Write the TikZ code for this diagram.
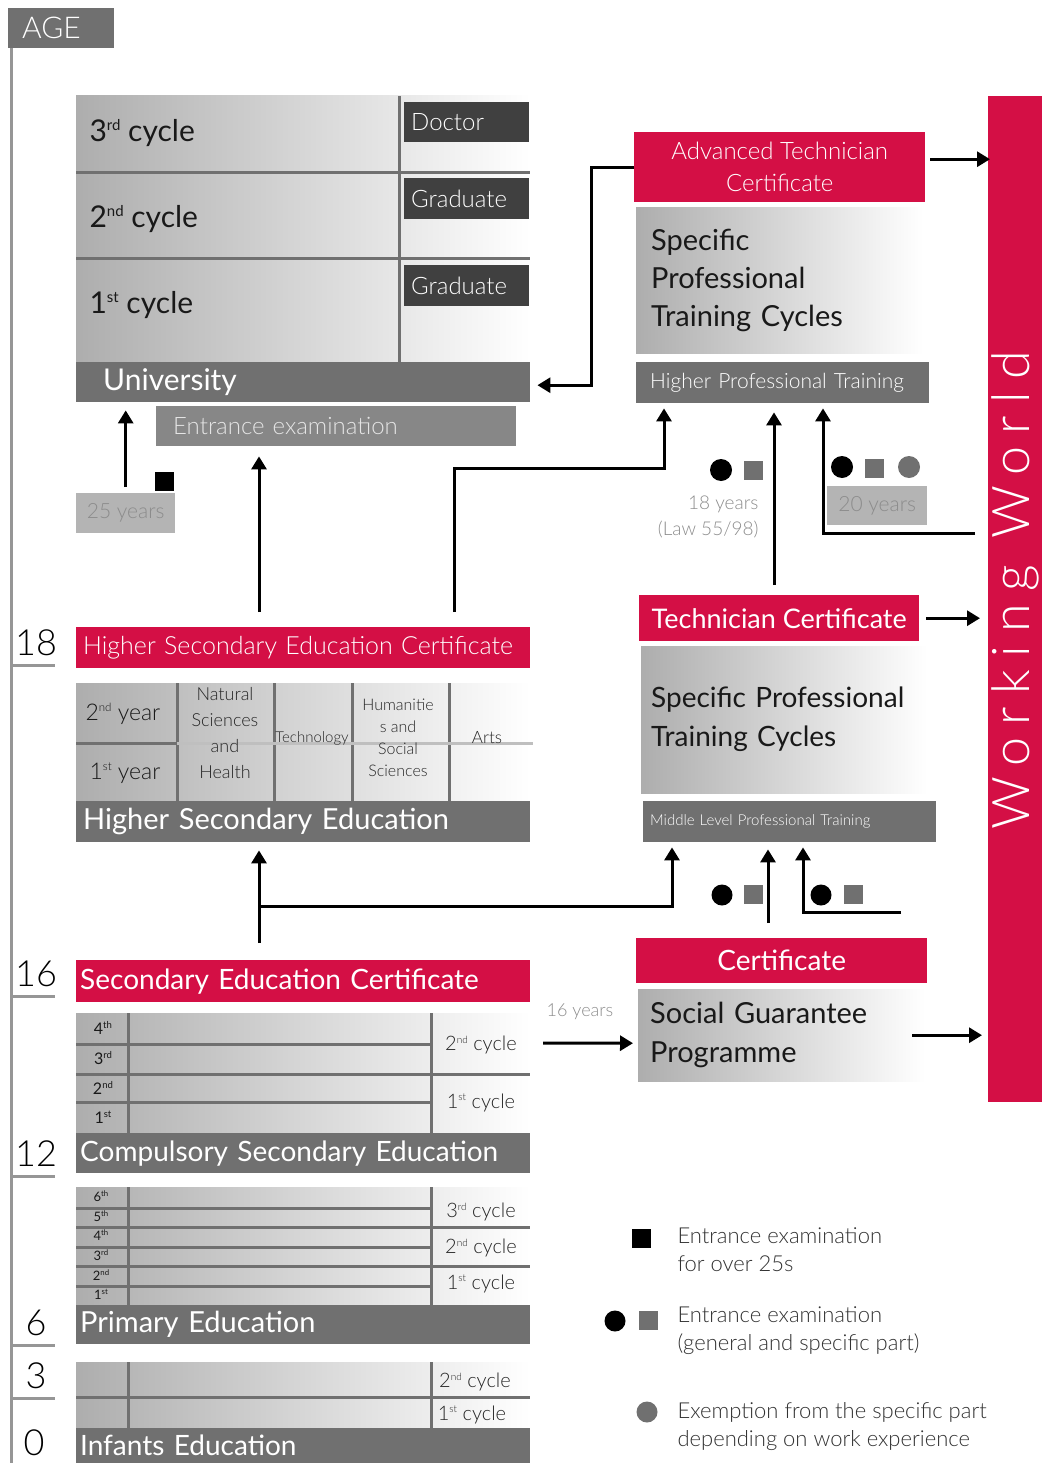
\documentclass[tikz,border=0pt]{standalone}
\usepackage{fontspec}
\setmainfont{Lato}[UprightFont=* Light]
\newfontfamily\regfont{Lato}
\usetikzlibrary{positioning,arrows.meta,calc}

\definecolor{crimson}{RGB}{212,15,69}
\definecolor{bargray}{RGB}{112,112,112}
\definecolor{darkbox}{RGB}{64,64,64}
\definecolor{exambox}{RGB}{135,135,135}
\definecolor{yearbox}{RGB}{180,180,180}
\definecolor{yeartext}{RGB}{140,140,140}
\definecolor{axisgray}{RGB}{150,150,150}
\definecolor{legtext}{RGB}{50,50,50}

\newcommand{\px}[2]{\fontsize{#1}{#2}\selectfont}
\newcommand{\ordsup}[1]{\raisebox{0.38em}{\scalebox{0.5}{#1}}}
\newcommand{\gradesup}[1]{\raisebox{0.4em}{\scalebox{0.6}{#1}}}
\hyphenpenalty=10000
\exhyphenpenalty=10000

\tikzset{
  bar/.style={fill=bargray, text=white, anchor=north west, inner ysep=0pt, inner xsep=7pt, align=left},
  cert/.style={fill=crimson, text=white, anchor=north west, inner sep=0pt, align=center},
  dark/.style={fill=darkbox, text=white, anchor=north west, inner ysep=0pt, inner xsep=7pt, align=left, font=\px{24}{24}},
  grad/.style={left color=black!32, right color=white, anchor=north west, inner ysep=0pt, align=left, text=black!90},
  yearsbox/.style={fill=yearbox, text=yeartext, anchor=north west, inner sep=0pt, font=\px{21}{21}},
  gline/.style={draw=bargray, line width=3pt},
  lline/.style={draw=black!25, line width=3pt},
  ageline/.style={draw=axisgray, line width=3pt},
  agenum/.style={font=\px{36}{36}, text=black},
  cyc/.style={anchor=west, font=\regfont\px{30}{30}, text=black!90},
  small/.style={font=\px{17}{17}, text=black!85, align=center},
  grade/.style={font=\regfont\px{16}{16}, text=black!90},
  side/.style={font=\px{20}{20}, text=black!85},
  arr/.style={line width=3pt, -{Triangle[length=13pt,width=15pt]}},
  bdot/.style={circle, fill=black, inner sep=0pt, minimum size=22pt},
  gdot/.style={circle, fill=bargray, inner sep=0pt, minimum size=22pt},
  bsq/.style={fill=black, inner sep=0pt, minimum size=19pt},
  gsq/.style={fill=bargray, inner sep=0pt, minimum size=19pt},
  legend/.style={anchor=west, align=left, font=\px{22}{28}, text=legtext},
}

\begin{document}
\begin{tikzpicture}[x=1pt, y=-1pt]
\useasboundingbox (0,0) rectangle (1042,1463);

% age axis
\node[bar, text width=78pt, minimum height=40pt, inner xsep=14pt, font=\px{30}{30}] (age) at (8,8) {AGE};
\draw[ageline] ([xshift=3pt]age.south west) -- (11,1463);
\foreach \y/\a in {665/18, 996/16, 1176/12, 1345/6, 1398/3}
  \draw[ageline] (11,\y) -- (55,\y) node[agenum] at (36,\y-22) {\a};
\node[agenum] (age0) at (34,1443) {0};

% university
\shade[left color=black!32, right color=white] (76,96) rectangle (530,362);
\draw[gline] (399,96) -- (399,362);
\draw[gline] (76,173) -- (530,173) (76,258) -- (530,258);
\node[cyc] (uc3) at (86,133) {3\ordsup{rd} cycle};
\node[cyc] (uc2) at (86,219) {2\ordsup{nd} cycle};
\node[cyc] (uc1) at (86,305) {1\ordsup{st} cycle};
\node[dark, text width=111pt, minimum height=40pt] (doctor) at (404,102) {Doctor};
\node[dark, text width=111pt, minimum height=41pt] (grad2) at (404,178) {Graduate};
\node[dark, text width=111pt, minimum height=41pt] (grad1) at (404,265) {Graduate};
\node[bar, text width=400pt, minimum height=40pt, inner xsep=27pt, font=\regfont\px{30}{30}] (univ) at (76,362) {University};
\node[bar, fill=exambox, text=black!10, text width=326pt, minimum height=40pt, inner xsep=17pt, font=\px{24}{24}] (entr) at (156,406) {Entrance examination};

% over 25s
\node[yearsbox, minimum width=99pt, minimum height=40pt] (yrs25) at (76,493) {25 years};
\node[bsq] (sq25) at (164,481) {};
\draw[arr, shorten <=6pt, shorten >=8pt] (yrs25.north) -- (yrs25.north |- univ.south);

% higher secondary education
\node[cert, text width=440pt, minimum height=41pt, inner xsep=7pt, align=left, font=\px{25}{25}] (hsec) at (76,627) {Higher Secondary Education Certificate};
\draw[arr] ([xshift=183pt,yshift=15pt]hsec.north west) coordinate (h0) -- ([yshift=-10pt]h0 |- entr.south);
\shade[left color=black!32, right color=white] (76,683) rectangle (530,801);
\draw[gline] (177,683) -- (177,801) (274,683) -- (274,801) (352,683) -- (352,801) (449,683) -- (449,801);
\draw[gline] (76,743) -- (177,743);
\draw[lline] (177,743) -- (533,743);
\node[cyc, font=\px{23}{23}] (y2) at (82,714) {2\ordsup{nd} year};
\node[cyc, font=\px{23}{23}] (y1) at (86,773) {1\ordsup{st} year};
\node[small, font=\px{18}{25.7}] (nat) at (225,733) {Natural\\Sciences\\and\\Health};
\node[small, font=\px{15}{15}] (tech) at (312,738) {Technology};
\node[small, font=\px{16}{22}] (hum) at (398,738) {Humanitie\\s and\\Social\\Sciences};
\node[small] (arts) at (487,738) {Arts};
\node[bar, text width=440pt, minimum height=41pt, font=\regfont\px{29}{29}] (hse) at (76,801) {Higher Secondary Education};

% compulsory secondary education
\node[cert, text width=446pt, minimum height=42pt, inner xsep=4pt, align=left, font=\regfont\px{28}{28}] (secc) at (76,960) {Secondary Education Certificate};
\draw[arr] ([xshift=183pt,yshift=17pt]secc.north west) coordinate (s0) -- ([yshift=-8pt]s0 |- hse.south);
\shade[left color=black!32, right color=white] (76,1013) rectangle (530,1133);
\draw[gline] (128,1013) -- (128,1133) (431,1013) -- (431,1133);
\draw[gline] (76,1044) -- (431,1044) (76,1074) -- (530,1074) (76,1102) -- (431,1102);
\foreach \y/\g in {1028/4\gradesup{th}, 1058/3\gradesup{rd}, 1088/2\gradesup{nd}, 1117/1\gradesup{st}}
  \node[grade] at (103,\y) {\g};
\node[side] (cs2) at (481,1045) {2\ordsup{nd} cycle};
\node[side] (cs1) at (481,1103) {1\ordsup{st} cycle};
\node[bar, text width=446pt, minimum height=40pt, inner xsep=4pt, font=\regfont\px{28}{28}] (cse) at (76,1133) {Compulsory Secondary Education};

% primary education
\shade[left color=black!32, right color=white] (76,1187) rectangle (530,1305);
\draw[gline] (128,1187) -- (128,1305) (431,1187) -- (431,1305);
\draw[gline] (76,1208) -- (431,1208) (76,1227) -- (530,1227) (76,1247) -- (431,1247)
  (76,1266) -- (530,1266) (76,1286) -- (431,1286);
\foreach \y/\g in {1196/6\gradesup{th}, 1216/5\gradesup{th}, 1235/4\gradesup{th}, 1255/3\gradesup{rd}, 1275/2\gradesup{nd}, 1294/1\gradesup{st}}
  \node[grade, font=\regfont\px{13}{13}] at (101,\y) {\g};
\node[side] (pc3) at (481,1212) {3\ordsup{rd} cycle};
\node[side] (pc2) at (481,1248) {2\ordsup{nd} cycle};
\node[side] (pc1) at (481,1284) {1\ordsup{st} cycle};
\node[bar, text width=446pt, minimum height=39pt, inner xsep=4pt, font=\regfont\px{29}{29}] (prim) at (76,1305) {Primary Education};

% infants education
\shade[left color=black!32, right color=white] (76,1362) rectangle (530,1428);
\draw[gline] (128,1362) -- (128,1428) (431,1362) -- (431,1428);
\draw[gline] (76,1397) -- (530,1397);
\node[side] (ic2) at (475,1382) {2\ordsup{nd} cycle};
\node[side] (ic1) at (472,1415) {1\ordsup{st} cycle};
\node[bar, text width=446pt, minimum height=35pt, inner xsep=4pt, font=\regfont\px{28}{28}] (inf) at (76,1428) {Infants Education};

% working world
\node[fill=crimson, anchor=north west, minimum width=54pt, minimum height=1006pt, inner sep=0pt] (ww) at (988,96) {};
\node[rotate=90, text=white, font=\px{52}{52}\addfontfeatures{LetterSpace=24}] (wwtext) at ([yshift=9pt]ww.center) {Working World};

% higher professional training
\node[cert, minimum width=291pt, minimum height=70pt, font=\px{24}{32}] (atc) at (634,132) {Advanced Technician\\Certificate};
\node[grad, text width=257pt, inner xsep=15pt, minimum height=146pt, font=\regfont\px{29}{38}] (sptc1) at (636,207) {Specific\\Professional\\Training Cycles};
\node[bar, text width=265pt, inner xsep=14pt, minimum height=41pt, font=\px{21}{21}] (hpt) at (636,362) {Higher Professional Training};
\draw[arr] (atc.west) -- ++(-43,0) |- ([xshift=7pt,yshift=-3pt]univ.east);
\draw[arr, shorten >=3pt] ([xshift=5pt,yshift=8pt]atc.east) -- ([xshift=5pt,yshift=8pt]atc.east -| ww.west);
\draw[arr] ([xshift=378pt,yshift=15pt]hsec.north west) -- ++(0,-144) -| ([xshift=28pt,yshift=-5pt]hpt.south west);
\node[bdot] (d18) at (721,470) {};
\node[gsq] (q18) at (753,470) {};
\node[anchor=east, align=right, font=\px{19}{26}, text=yeartext] (law) at (762,517) {18 years\\(Law 55/98)};
\node[bdot] (d20) at (842,467) {};
\node[gsq] (q20) at (874,468) {};
\node[gdot] (g20) at (909,467) {};
\node[yearsbox, minimum width=100pt, minimum height=39pt] (yrs20) at (827,486) {20 years};
\coordinate (w20) at (975,533);
\draw[arr] (w20) -| ([xshift=187pt,yshift=-5pt]hpt.south west);

% middle level professional training
\node[cert, minimum width=280pt, minimum height=46pt, font=\regfont\px{27}{27}] (tc) at (639,595) {Technician Certificate};
\node[grad, text width=272pt, inner xsep=7pt, minimum height=147pt, font=\regfont\px{28}{39}] (sptc2) at (641,646) {\hspace*{3pt}Specific Professional\\\hspace*{3pt}Training Cycles};
\node[bar, text width=279pt, minimum height=41pt, font=\px{15}{15}] (mlpt) at (643,801) {Middle Level Professional Training};
\draw[arr] ([xshift=135pt,yshift=10pt]tc.north west) coordinate (t0) -- ([yshift=-9pt]t0 |- hpt.south);
\draw[arr, shorten >=8pt] ([xshift=7pt]tc.east) -- (tc.east -| ww.west);
\draw[arr] ([yshift=37pt]s0) -| ([xshift=29pt,yshift=-5pt]mlpt.south west);
\node[bdot, minimum size=21pt] (d16) at (722,895) {};
\node[gsq] (q16) at (753.5,894.5) {};
\node[bdot, minimum size=21pt] (d16b) at (821,895) {};
\node[gsq] (q16b) at (853.5,894.5) {};
\coordinate (w16) at (901,912);
\draw[arr] (w16) -| ([xshift=160pt,yshift=-5pt]mlpt.south west);

% social guarantee programme
\node[cert, minimum width=291pt, minimum height=45pt, font=\regfont\px{28}{28}] (cert) at (636,938) {Certificate};
\draw[arr] ([xshift=132pt,yshift=15pt]cert.north west) coordinate (c0) -- ([yshift=-7pt]c0 |- mlpt.south);
\node[grad, text width=263pt, inner xsep=12pt, minimum height=92pt, font=\regfont\px{29}{39}] (sgp) at (638,989) {Social Guarantee\\Programme};
\node[font=\px{18}{18}, text=yeartext] (yrs16) at (580,1012) {16 years};
\coordinate (c16) at (543,1043);
\draw[arr] (c16) -- ([xshift=-5pt,yshift=-8pt]sgp.west);
\draw[arr] ([xshift=-13pt]sgp.east) -- ([xshift=-6pt]sgp.east -| ww.west);

% legend
\node[bsq] (leg1) at (641.5,1238) {};
\node[legend] (legt1) at (674,1250) {Entrance examination\\for over 25s};
\node[bdot, minimum size=21pt] (leg2a) at (615,1321) {};
\node[gsq] (leg2b) at (648,1320.5) {};
\node[legend] (legt2) at (674,1331) {Entrance examination\\(general and specific part)};
\node[gdot, minimum size=21pt] (leg3) at (647,1412) {};
\node[legend] (legt3) at (674,1427) {Exemption from the specific part\\depending on work experience};
\end{tikzpicture}
\end{document}
